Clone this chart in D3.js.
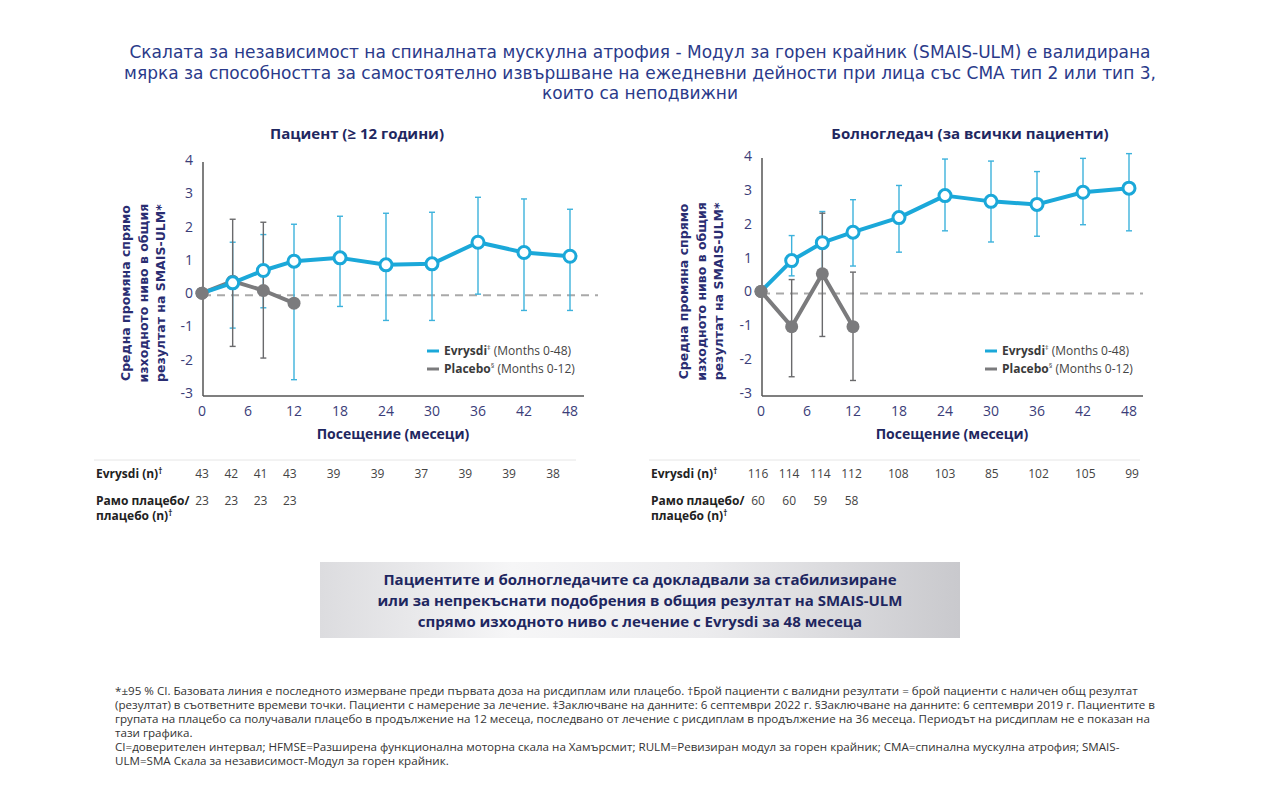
<!DOCTYPE html>
<html>
<head>
<meta charset="utf-8">
<style>
  body { margin: 0; background: #ffffff; }
  svg { display: block; font-family: 'Open Sans', Lato, sans-serif; }
  .tick-lbl { fill: #3a3d78; font-size: 14px; }
  .ttl { fill: #2a3a8a; font-size: 17px; font-family: 'DejaVu Sans', sans-serif; }
  .panel-ttl { fill: #1f2760; font-size: 15px; font-weight: bold; }
  .ylab { fill: #2a2d72; font-size: 12.5px; font-weight: bold; font-family: 'DejaVu Sans', sans-serif; }
  .xlab { fill: #1f2760; font-size: 14px; font-weight: bold; }
  .leg { fill: #444; font-size: 12px; }
  .tbl { fill: #444; font-size: 12px; }
  .tbl-h { fill: #222; font-size: 12px; font-weight: bold; }
  .foot { fill: #333; font-size: 11.6px; }
  .banner { fill: #1f2760; font-size: 15px; font-weight: bold; }
</style>
</head>
<body>
<svg width="1280" height="803"></svg>
<script src="https://cdn.jsdelivr.net/npm/d3@7"></script>
<script>

// --- data ---
var months = [0, 4, 8, 12, 18, 24, 30, 36, 42, 48];
var placeboMonths = [0, 4, 8, 12];
var tickMonths = [0, 6, 12, 18, 24, 30, 36, 42, 48];
var yTicks = [-3, -2, -1, 0, 1, 2, 3, 4];

var patientEvrysdi   = [0, 0.31, 0.68, 0.96, 1.06, 0.85, 0.88, 1.53, 1.22, 1.11];
var patientEvrysdiLo = [null, -1.05, -0.44, -2.60, -0.40, -0.82, -0.82, -0.03, -0.52, -0.52];
var patientEvrysdiHi = [null, 1.53, 1.76, 2.07, 2.31, 2.40, 2.43, 2.88, 2.83, 2.52];
var patientPlacebo   = [0, 0.36, 0.08, -0.30];
var patientPlaceboLo = [null, -1.60, -1.95, null];
var patientPlaceboHi = [null, 2.22, 2.13, null];

var caregiverEvrysdi   = [0, 0.91, 1.44, 1.75, 2.18, 2.83, 2.66, 2.57, 2.93, 3.05];
var caregiverEvrysdiLo = [null, 0.46, 0.52, 0.75, 1.16, 1.79, 1.46, 1.63, 1.97, 1.79];
var caregiverEvrysdiHi = [null, 1.65, 2.36, 2.71, 3.13, 3.91, 3.85, 3.54, 3.93, 4.07];
var caregiverPlacebo   = [0, -1.04, 0.52, -1.04];
var caregiverPlaceboLo = [null, -2.52, -1.33, -2.63];
var caregiverPlaceboHi = [null, 0.35, 2.31, 0.57];

var patientN = [43, 42, 41, 43, 39, 39, 37, 39, 39, 38];
var patientPlaceboN = [23, 23, 23, 23];
var caregiverN = [116, 114, 114, 112, 108, 103, 85, 102, 105, 99];
var caregiverPlaceboN = [60, 60, 59, 58];

var titleLines = [
  "Скалата за независимост на спиналната мускулна атрофия - Модул за горен крайник (SMAIS-ULM) е валидирана",
  "мярка за способността за самостоятелно извършване на ежедневни дейности при лица със СМА тип 2 или тип 3,",
  "които са неподвижни"
];
var yLabelLines = ["Средна промяна спрямо", "изходното ниво в общия", "резултат на SMAIS-ULM*"];
var bannerLines = [
  "Пациентите и болногледачите са докладвали за стабилизиране",
  "или за непрекъснати подобрения в общия резултат на SMAIS-ULM",
  "спрямо изходното ниво с лечение с Evrysdi за 48 месеца"
];
var footLines = [
  "*±95 % CI. Базовата линия е последното измерване преди първата доза на рисдиплам или плацебо. †Брой пациенти с валидни резултати = брой пациенти с наличен общ резултат",
  "(резултат) в съответните времеви точки. Пациенти с намерение за лечение. ‡Заключване на данните: 6 септември 2022 г. §Заключване на данните: 6 септември 2019 г. Пациентите в",
  "групата на плацебо са получавали плацебо в продължение на 12 месеца, последвано от лечение с рисдиплам в продължение на 36 месеца. Периодът на рисдиплам не е показан на",
  "тази графика.",
  "CI=доверителен интервал; HFMSE=Разширена функционална моторна скала на Хамърсмит; RULM=Ревизиран модул за горен крайник; СМА=спинална мускулна атрофия; SMAIS-",
  "ULM=SMA Скала за независимост-Модул за горен крайник."
];

var BLUE = "#1ba8d9", BLUE_BAR = "#3db2dc", GREY = "#7b7b7d", GREY_BAR = "#6a6a6c";

var svg = d3.select("svg");

// header
svg.append("g").selectAll("text").data(titleLines).enter().append("text")
  .attr("class", "ttl").attr("x", 640).attr("y", function (d, i) { return 58 + i * 20.5; })
  .attr("text-anchor", "middle").text(function (d) { return d; });

function panel(cfg) {
  var x = d3.scaleLinear().domain([0, 48]).range([cfg.x0, cfg.x1]);
  var y = d3.scaleLinear().domain([-3, 4]).range([cfg.yb, cfg.yt]);
  var xt = d3.scaleLinear().domain([0, 48]).range(cfg.tblRange);
  var g = svg.append("g");
  var axX = cfg.x0 + 1;

  g.append("text").attr("class", "panel-ttl").attr("x", cfg.titleX).attr("y", 139)
    .attr("text-anchor", "middle").text(cfg.title);

  // axes
  g.append("line").attr("x1", axX).attr("x2", axX).attr("y1", y(4) + 2).attr("y2", y(-3) + 3)
    .attr("stroke", "#555").attr("stroke-width", 1.5);
  g.append("line").attr("x1", axX).attr("x2", cfg.axisEnd).attr("y1", y(-3) + 3).attr("y2", y(-3) + 3)
    .attr("stroke", "#555").attr("stroke-width", 1.5);

  g.selectAll(".yt").data(yTicks).enter().append("text")
    .attr("class", "tick-lbl").attr("x", axX - 10).attr("y", function (d) { return y(d) + 5; })
    .attr("text-anchor", "end").text(function (d) { return d; });
  g.selectAll(".xt").data(tickMonths).enter().append("text")
    .attr("class", "tick-lbl").attr("x", function (d) { return x(d); }).attr("y", y(-3) + 23)
    .attr("text-anchor", "middle").text(function (d) { return d; });

  // zero reference
  g.append("line").attr("x1", axX).attr("x2", cfg.dashEnd).attr("y1", y(0) + 2).attr("y2", y(0) + 2)
    .attr("stroke", "#a9a9a9").attr("stroke-width", 2).attr("stroke-dasharray", "8,6");

  // y label
  var cy = y(0);
  g.selectAll(".yl").data(yLabelLines).enter().append("text")
    .attr("class", "ylab")
    .attr("transform", function (d, i) { return "translate(" + (cfg.ylabX + i * 17.5) + "," + cy + ") rotate(-90)"; })
    .attr("text-anchor", "middle").text(function (d) { return d; });

  g.append("text").attr("class", "xlab").attr("x", cfg.xlabX).attr("y", 439)
    .attr("text-anchor", "middle").text("Посещение (месеци)");

  // error bars
  function bars(ms, lo, hi, color) {
    var rows = ms.map(function (m, i) { return { m: m, lo: lo[i], hi: hi[i] }; })
      .filter(function (d) { return d.lo !== null; });
    var eb = g.append("g").attr("stroke", color).attr("stroke-width", 1.4);
    eb.selectAll(".v").data(rows).enter().append("line")
      .attr("x1", function (d) { return x(d.m); }).attr("x2", function (d) { return x(d.m); })
      .attr("y1", function (d) { return y(d.lo); }).attr("y2", function (d) { return y(d.hi); });
    eb.selectAll(".c1").data(rows).enter().append("line")
      .attr("x1", function (d) { return x(d.m) - 3; }).attr("x2", function (d) { return x(d.m) + 3; })
      .attr("y1", function (d) { return y(d.lo); }).attr("y2", function (d) { return y(d.lo); });
    eb.selectAll(".c2").data(rows).enter().append("line")
      .attr("x1", function (d) { return x(d.m) - 3; }).attr("x2", function (d) { return x(d.m) + 3; })
      .attr("y1", function (d) { return y(d.hi); }).attr("y2", function (d) { return y(d.hi); });
  }
  bars(months, cfg.evLo, cfg.evHi, BLUE_BAR);
  bars(placeboMonths, cfg.plLo, cfg.plHi, GREY_BAR);

  var line = d3.line().x(function (d) { return x(d[0]); }).y(function (d) { return y(d[1]); });

  // placebo
  var pl = placeboMonths.map(function (m, i) { return [m, cfg.pl[i]]; });
  g.append("path").attr("d", line(pl)).attr("fill", "none").attr("stroke", GREY)
    .attr("stroke-width", 4).attr("stroke-linejoin", "round");
  g.selectAll(".pd").data(pl).enter().append("circle")
    .attr("cx", function (d) { return x(d[0]); }).attr("cy", function (d) { return y(d[1]); })
    .attr("r", 6.5).attr("fill", GREY);

  // evrysdi
  var ev = months.map(function (m, i) { return [m, cfg.ev[i]]; });
  g.append("path").attr("d", line(ev)).attr("fill", "none").attr("stroke", BLUE)
    .attr("stroke-width", 4).attr("stroke-linejoin", "round");
  g.selectAll(".ed").data(ev.slice(1)).enter().append("circle")
    .attr("cx", function (d) { return x(d[0]); }).attr("cy", function (d) { return y(d[1]); })
    .attr("r", 6).attr("fill", "#fff").attr("stroke", BLUE).attr("stroke-width", 3);
  // placebo start point sits on top
  g.append("circle").attr("cx", x(0)).attr("cy", y(0)).attr("r", 6.5).attr("fill", GREY);

  // legend
  var lg = g.append("g").attr("transform", "translate(" + cfg.legX + ",351)");
  [["Evrysdi", "‡", " (Months 0-48)", BLUE], ["Placebo", "§", " (Months 0-12)", GREY]].forEach(function (it, i) {
    lg.append("line").attr("x1", 0).attr("x2", 12).attr("y1", i * 18).attr("y2", i * 18)
      .attr("stroke", it[3]).attr("stroke-width", 3);
    var t = lg.append("text").attr("class", "leg").attr("x", 17).attr("y", i * 18 + 4);
    t.append("tspan").attr("font-weight", "bold").attr("fill", "#3a3a3a").text(it[0]);
    t.append("tspan").attr("font-size", "7px").attr("dy", -5).text(it[1]);
    t.append("tspan").attr("dy", 5).text(it[2]);
  });

  // n table
  g.append("line").attr("x1", cfg.tblX - 2).attr("x2", cfg.tblEnd).attr("y1", 460).attr("y2", 460)
    .attr("stroke", "#e6e6e6").attr("stroke-width", 1);
  var h1 = g.append("text").attr("class", "tbl-h").attr("x", cfg.tblX).attr("y", 478);
  h1.append("tspan").text("Evrysdi (n)");
  h1.append("tspan").attr("font-size", "8px").attr("dy", -4).text("†");
  g.append("text").attr("class", "tbl-h").attr("x", cfg.tblX).attr("y", 505).text("Рамо плацебо/");
  var h2 = g.append("text").attr("class", "tbl-h").attr("x", cfg.tblX).attr("y", 520);
  h2.append("tspan").text("плацебо (n)");
  h2.append("tspan").attr("font-size", "8px").attr("dy", -4).text("†");

  g.selectAll(".n1").data(months).enter().append("text")
    .attr("class", "tbl").attr("x", function (d) { return xt(d); }).attr("y", 478)
    .attr("text-anchor", "middle").text(function (d, i) { return cfg.n[i]; });
  g.selectAll(".n2").data(placeboMonths).enter().append("text")
    .attr("class", "tbl").attr("x", function (d) { return xt(d); }).attr("y", 505)
    .attr("text-anchor", "middle").text(function (d, i) { return cfg.pn[i]; });
}

panel({
  title: "Пациент (≥ 12 години)", titleX: 357,
  x0: 202, x1: 570, yt: 160, yb: 393, axisEnd: 584, dashEnd: 598,
  ylabX: 130, xlabX: 393, legX: 427, tblX: 96, tblEnd: 576, tblRange: [202, 553],
  ev: patientEvrysdi, evLo: patientEvrysdiLo, evHi: patientEvrysdiHi,
  pl: patientPlacebo, plLo: patientPlaceboLo, plHi: patientPlaceboHi,
  n: patientN, pn: patientPlaceboN
});
panel({
  title: "Болногледач (за всички пациенти)", titleX: 970,
  x0: 761, x1: 1129, yt: 156, yb: 393, axisEnd: 1143, dashEnd: 1143,
  ylabX: 688, xlabX: 952, legX: 985, tblX: 651, tblEnd: 1140, tblRange: [758, 1132],
  ev: caregiverEvrysdi, evLo: caregiverEvrysdiLo, evHi: caregiverEvrysdiHi,
  pl: caregiverPlacebo, plLo: caregiverPlaceboLo, plHi: caregiverPlaceboHi,
  n: caregiverN, pn: caregiverPlaceboN
});

// banner
var defs = svg.append("defs");
var grad = defs.append("linearGradient").attr("id", "bn").attr("x1", "0%").attr("x2", "100%");
grad.append("stop").attr("offset", "0%").attr("stop-color", "#dcdcdf");
grad.append("stop").attr("offset", "30%").attr("stop-color", "#f6f6f7");
grad.append("stop").attr("offset", "60%").attr("stop-color", "#ececee");
grad.append("stop").attr("offset", "100%").attr("stop-color", "#c9c9cd");
svg.append("rect").attr("x", 320).attr("y", 562).attr("width", 640).attr("height", 76)
  .attr("fill", "url(#bn)");
svg.append("g").selectAll("text").data(bannerLines).enter().append("text")
  .attr("class", "banner").attr("x", 640).attr("y", function (d, i) { return 585 + i * 21; })
  .attr("text-anchor", "middle").text(function (d) { return d; });

// footnotes
svg.append("g").selectAll("text").data(footLines).enter().append("text")
  .attr("class", "foot").attr("x", 115).attr("y", function (d, i) { return 695 + i * 14; })
  .text(function (d) { return d; });

</script>
</body>
</html>
